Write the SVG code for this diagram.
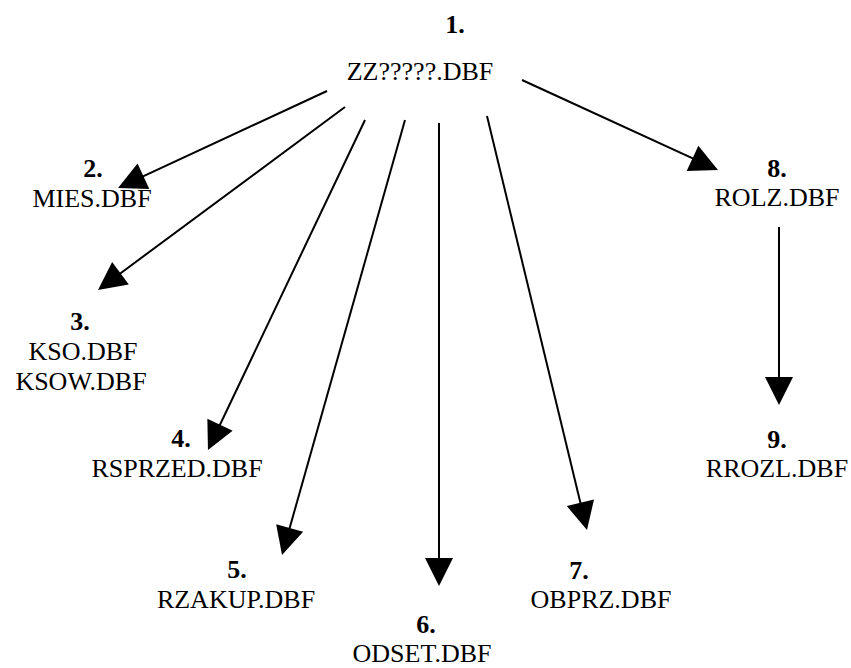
<svg xmlns="http://www.w3.org/2000/svg" width="851" height="668" viewBox="0 0 851 668">
  <style>
    .num { font-family: "Liberation Serif", Tinos, "Times New Roman", Times, serif; font-size: 26px; font-weight: bold; fill: #000; text-anchor: middle; }
    .name { font-family: "Liberation Serif", Tinos, "Times New Roman", Times, serif; font-size: 26px; fill: #000; text-anchor: middle; }
    .edge { stroke: #000; stroke-width: 2; fill: none; marker-end: url(#head); }
  </style>
  <defs>
    <!-- filled triangular arrowhead; line ends inside it so the tip stays sharp -->
    <marker id="head" markerUnits="userSpaceOnUse" markerWidth="30" markerHeight="30" refX="20" refY="14" orient="auto" overflow="visible">
      <path d="M0,0 L28,14 L0,28 Z" fill="#000"/>
    </marker>
  </defs>
  <rect width="851" height="668" fill="#fff"/>

  <g id="connectors">
    <line class="edge" x1="327" y1="91" x2="125.3" y2="184.6"/>
    <line class="edge" x1="345" y1="107" x2="104.4" y2="285.2"/>
    <line class="edge" x1="365" y1="120" x2="211.4" y2="442.8"/>
    <line class="edge" x1="405" y1="120" x2="284.2" y2="547.3"/>
    <line class="edge" x1="439" y1="123" x2="439" y2="578"/>
    <line class="edge" x1="487" y1="116" x2="585.1" y2="522.2"/>
    <line class="edge" x1="522" y1="80" x2="710.7" y2="166.7"/>
    <line class="edge" x1="779" y1="227" x2="779" y2="397"/>
  </g>

  <g id="node1">
    <text class="num" x="455" y="33">1.</text>
    <text class="name" x="420" y="80">ZZ?????.DBF</text>
  </g>
  <g id="node2">
    <text class="num" x="93" y="177">2.</text>
    <text class="name" x="92" y="207">MIES.DBF</text>
  </g>
  <g id="node3">
    <text class="num" x="80" y="330">3.</text>
    <text class="name" x="83" y="360">KSO.DBF</text>
    <text class="name" x="81" y="390">KSOW.DBF</text>
  </g>
  <g id="node4">
    <text class="num" x="181" y="447">4.</text>
    <text class="name" x="177" y="477">RSPRZED.DBF</text>
  </g>
  <g id="node5">
    <text class="num" x="237" y="578">5.</text>
    <text class="name" x="236" y="608">RZAKUP.DBF</text>
  </g>
  <g id="node6">
    <text class="num" x="426" y="633">6.</text>
    <text class="name" x="422" y="662">ODSET.DBF</text>
  </g>
  <g id="node7">
    <text class="num" x="579" y="579">7.</text>
    <text class="name" x="601" y="608">OBPRZ.DBF</text>
  </g>
  <g id="node8">
    <text class="num" x="777" y="177">8.</text>
    <text class="name" x="777" y="206">ROLZ.DBF</text>
  </g>
  <g id="node9">
    <text class="num" x="777" y="448">9.</text>
    <text class="name" x="777" y="477">RROZL.DBF</text>
  </g>
</svg>
